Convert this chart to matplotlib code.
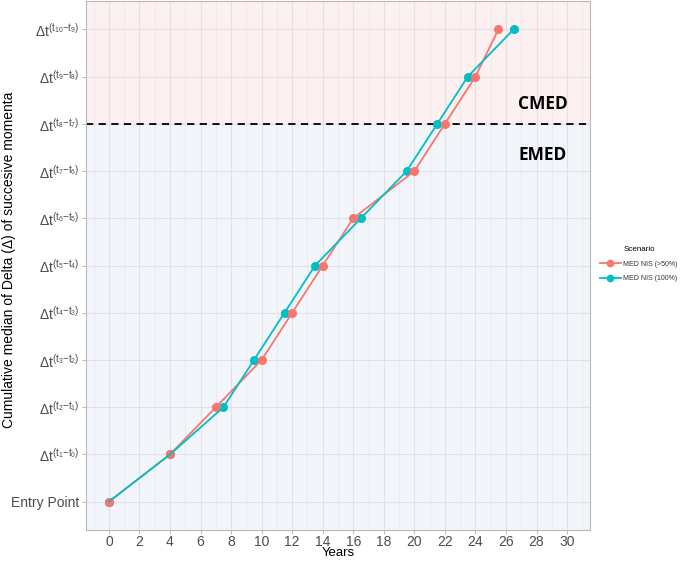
import matplotlib
matplotlib.use("Agg")
import matplotlib.pyplot as plt
from matplotlib.ticker import MultipleLocator

plt.rcParams['font.family'] = ['Liberation Sans', 'DejaVu Sans']
plt.rcParams['mathtext.fontset'] = 'custom'
plt.rcParams['mathtext.rm'] = 'Liberation Sans'
plt.rcParams['mathtext.it'] = 'Liberation Sans'
plt.rcParams['mathtext.bf'] = 'Liberation Sans:bold'

# Data
levels = list(range(11))
level_labels = ["Entry Point"] + [
    r"$\Delta\mathrm{t}^{(\mathrm{t}_{%d}{-}\mathrm{t}_{%d})}$" % (i, i - 1) for i in range(1, 11)
]
red_years = [0, 4, 7, 10, 12, 14, 16, 20, 22, 24, 25.5]
cyan_years = [0, 4, 7.5, 9.5, 11.5, 13.5, 16.5, 19.5, 21.5, 23.5, 26.5]
series_names = ["MED NIS (>50%)", "MED NIS (100%)"]
red_color = "#F8766D"
cyan_color = "#00BFC4"
threshold = 8
x_ticks = list(range(0, 31, 2))

fig = plt.figure(figsize=(6.85, 5.61), dpi=100)
ax = fig.add_axes([86 / 685, 31 / 561, (590 - 86) / 685, (530 - 1) / 561])

xlim = (-1.5, 31.5)
ylim = (-0.6, 10.6)
ax.set_xlim(*xlim)
ax.set_ylim(*ylim)

# shading
ax.axhspan(ylim[0], threshold, color="#F2F6FB", zorder=0)
ax.axhspan(threshold, ylim[1], color="#FDF0F0", zorder=0)

# grid
ax.set_xticks(x_ticks)
ax.xaxis.set_minor_locator(MultipleLocator(1))
ax.set_yticks(levels)
ax.set_yticklabels(level_labels)
ax.grid(which="major", color="#E0E0E6", linewidth=0.8, zorder=1)
ax.grid(which="minor", axis="x", color="#E8E8EE", linewidth=0.6, zorder=1)
ax.set_axisbelow(True)

ax.axhline(threshold, color="black", linestyle=(0, (4, 3)), linewidth=1.3, zorder=2)

# points then lines
ax.plot(cyan_years, levels, "o", color=cyan_color, markersize=5.5, zorder=3)
ax.plot(red_years, levels, "o", color=red_color, markersize=5.5, zorder=3)
ax.plot(red_years, levels, "-", color=red_color, linewidth=1.3, zorder=4)
ax.plot(cyan_years, levels, "-", color=cyan_color, linewidth=1.3, zorder=4)

# legend handles
h1, = ax.plot([], [], "-o", color=red_color, markersize=4.5, linewidth=1.3)
h2, = ax.plot([], [], "-o", color=cyan_color, markersize=4.5, linewidth=1.3)
leg = fig.legend([h1, h2], series_names, title="Scenario", loc="center left",
                 bbox_to_anchor=(599 / 685, 1 - 264 / 561), frameon=False,
                 fontsize=5, title_fontsize=5.8, handlelength=2.9,
                 handletextpad=0.4, labelspacing=1.15, borderaxespad=0,
                 borderpad=0.2)
for t in leg.get_texts():
    t.set_color("#333333")

ax.text(28.4, 8.42, "CMED", ha="center", va="center", fontsize=12.5,
        fontweight="bold", family=["Open Sans", "DejaVu Sans"], color="black")
ax.text(28.4, 7.34, "EMED", ha="center", va="center", fontsize=12.5,
        fontweight="bold", family=["Open Sans", "DejaVu Sans"], color="black")

ax.tick_params(axis="both", which="major", labelsize=10, colors="#B0B0B0",
               labelcolor="#4D4D4D", length=3, width=0.6, pad=2)
ax.tick_params(axis="x", which="major", pad=0.5)
ax.tick_params(axis="x", which="minor", length=0)
for s in ax.spines.values():
    s.set_color("#B8B8B8")
    s.set_linewidth(0.8)

ax.set_xlabel("Years", fontsize=9.5)
ax.xaxis.set_label_coords(0.5, -(547 - 530) / 529)
ax.set_ylabel("Cumulative median of Delta (\u0394) of succesive momenta", fontsize=10)
ax.yaxis.set_label_coords(-70 / 504, (530 - 260) / 529)

fig.savefig("out.png", dpi=100)
